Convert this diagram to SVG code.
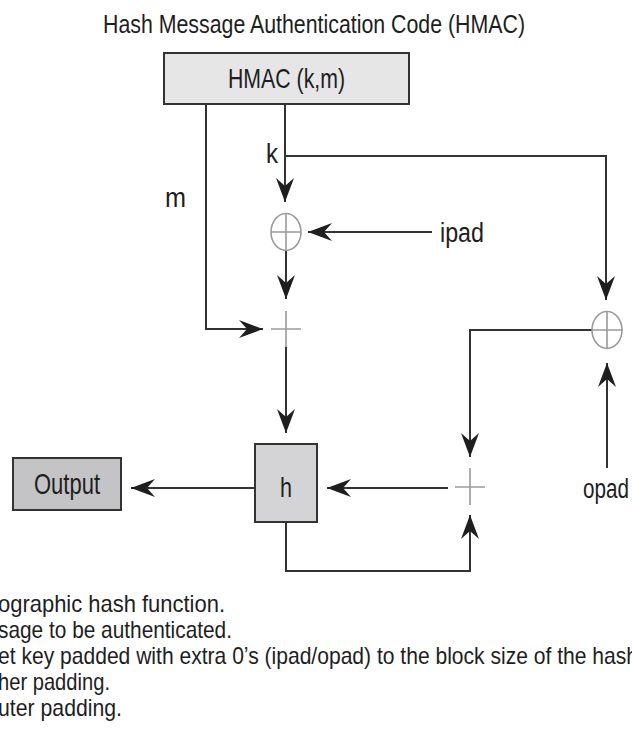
<svg xmlns="http://www.w3.org/2000/svg" width="632" height="745" viewBox="0 0 632 745">
<defs>
<marker id="ah" markerUnits="userSpaceOnUse" markerWidth="26" markerHeight="20" viewBox="-25 -10 26 20" refX="0" refY="0" orient="auto">
<path d="M0,0 L-24,-9 L-16,0 L-24,9 Z" fill="#1e1e1e"/>
</marker>
<style>
text{font-family:"Liberation Sans",Arial,sans-serif;fill:#1e1e1e}
.t{text-anchor:middle}
.lbl{font-size:27px}
.leg{font-size:24px}
.ar{fill:none;stroke:#333;stroke-width:2;marker-end:url(#ah)}
.sym{fill:none;stroke:#9a9a9a;stroke-width:1.6}
.box{stroke:#333;stroke-width:2}
</style>
</defs>
<rect width="632" height="745" fill="#fff"/>
<text x="314" y="33" class="t" font-size="26" textLength="422" lengthAdjust="spacingAndGlyphs">Hash Message Authentication Code (HMAC)</text>

<g id="connectors">
<path class="ar" d="M206,104 V329 H263"/>
<path class="ar" d="M285,104 V202"/>
<path class="ar" d="M285,156 H606 V300"/>
<path class="ar" d="M432,232 H308"/>
<path class="ar" d="M286,250 V299"/>
<path class="ar" d="M286,347 V433"/>
<path class="ar" d="M255,488 H131"/>
<path class="ar" d="M448,488 H327"/>
<path class="ar" d="M592,330 H470 V457"/>
<path class="ar" d="M607,468 V363"/>
<path class="ar" d="M286,522 V571 H470 V515"/>
</g>

<g id="hmac">
<rect class="box" x="164" y="53" width="245" height="51" fill="#e6e6e6"/>
<text x="286.5" y="88" class="t" font-size="28" textLength="117" lengthAdjust="spacingAndGlyphs">HMAC (k,m)</text>
</g>
<g id="label-k"><text x="266" y="163" class="lbl" textLength="12" lengthAdjust="spacingAndGlyphs">k</text></g>
<g id="label-m"><text x="165" y="207" class="lbl" textLength="21" lengthAdjust="spacingAndGlyphs">m</text></g>
<g id="xor-ipad">
<ellipse class="sym" cx="286" cy="232" rx="15" ry="18.5"/>
<path class="sym" d="M286,214 V250 M271,232 H301"/>
</g>
<g id="ipad"><text x="440" y="242" class="lbl" textLength="44" lengthAdjust="spacingAndGlyphs">ipad</text></g>
<g id="concat-inner">
<path class="sym" d="M271,329 H301 M286,311 V347"/>
</g>
<g id="xor-opad">
<ellipse class="sym" cx="607" cy="330" rx="15" ry="18.5"/>
<path class="sym" d="M607,312 V348 M592,330 H622"/>
</g>
<g id="opad"><text x="583" y="498" class="lbl" textLength="46" lengthAdjust="spacingAndGlyphs">opad</text></g>
<g id="concat-outer">
<path class="sym" d="M455,487 H485 M470,468 V505"/>
</g>
<g id="h">
<rect class="box" x="255" y="444" width="62" height="78" fill="#d4d4d6"/>
<text x="286" y="497" class="t" font-size="28" textLength="12" lengthAdjust="spacingAndGlyphs">h</text>
</g>
<g id="output">
<rect class="box" x="13" y="458" width="108" height="52" fill="#c4c4c6"/>
<text x="67" y="494" class="t" font-size="29" textLength="66" lengthAdjust="spacingAndGlyphs">Output</text>
</g>

<g id="legend">
<text x="-2" y="612" class="leg" textLength="227" lengthAdjust="spacingAndGlyphs">ographic hash function.</text>
<text x="-2" y="638" class="leg" textLength="234" lengthAdjust="spacingAndGlyphs">sage to be authenticated.</text>
<text x="-2" y="664" class="leg" textLength="640" lengthAdjust="spacingAndGlyphs">et key padded with extra 0’s (ipad/opad) to the block size of the hash</text>
<text x="-2" y="690" class="leg" textLength="112" lengthAdjust="spacingAndGlyphs">her padding.</text>
<text x="-2" y="716" class="leg" textLength="124" lengthAdjust="spacingAndGlyphs">uter padding.</text>
</g>
</svg>
